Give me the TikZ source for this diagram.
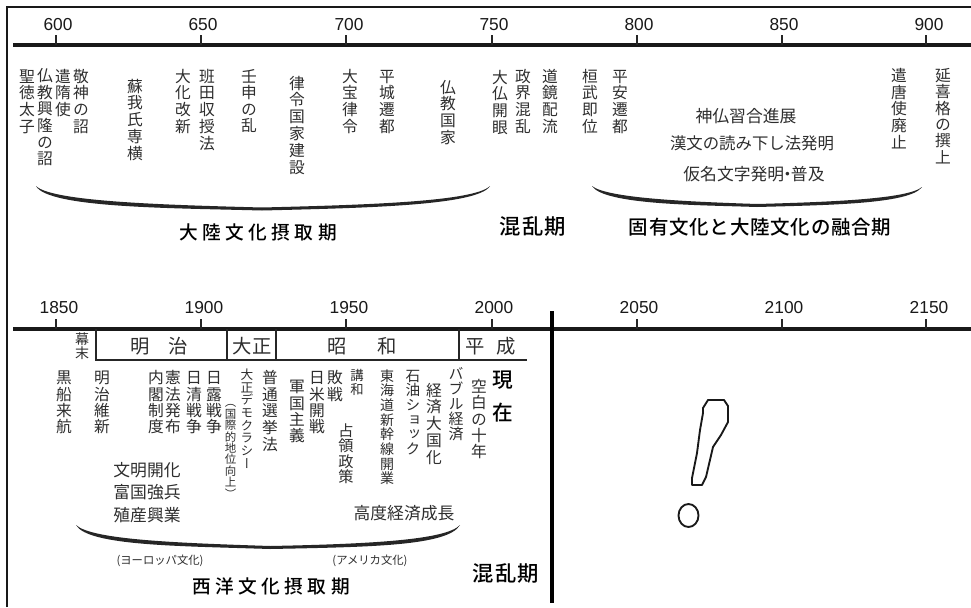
\documentclass[tikz,border=0pt]{standalone}
\usepackage{fontspec}
\setmainfont{Liberation Sans}
\newfontfamily\cjk{Noto Sans CJK JP}
\newfontfamily\cjkm{Noto Sans CJK JP Medium}
\newfontfamily\cjkv{Noto Sans CJK JP}[RawFeature=+vert]
\makeatletter
% size (pt), pitch (pt), characters: one glyph per line, top to bottom
\newcommand\vtxt[3]{\vbox{\offinterlineskip\fontsize{#1pt}{#1pt}\cjkv
  \@tfor\vtc:=#3\do{\hbox to #1pt{\vrule height .84\dimexpr#2pt\relax depth .16\dimexpr#2pt\relax width 0pt\smash{\vtc}\hss}}}}
\makeatother
\newcommand\sz[1]{\fontsize{#1pt}{#1pt}\selectfont}
\tikzset{
  x=0.75pt,y=-0.75pt,
  every node/.style={inner sep=0pt,outer sep=0pt,text=black!82},
  vt/.style={anchor=north},
  yearlab/.style={font=\fontsize{13pt}{13pt}\selectfont,text=black!90},
  axisline/.style={line width=2.4pt,black!90},
  tick/.style={line width=1.1pt,black!85},
  framing/.style={line width=1.6pt,black!90},
  era/.style={line width=1.3pt,black!85},
  erat/.style={font=\cjk\sz{14.5}},
  hz/.style={font=\cjk\sz{12.6}},
  head/.style={font=\cjkm\sz{14},text=black},
  small/.style={font=\cjk\sz{8.5}},
  arcshape/.style={fill=black!85,draw=none},
}
\newcommand\vn[6][11.8]{\node[vt] (#2) at (#3,#4) {\vtxt{#1}{#5}{#6}};}
\begin{document}
\begin{tikzpicture}
\useasboundingbox (0,0) rectangle (971,607);
\fill[white] (0,0) rectangle (971,607);
% frame
\coordinate (fa) at (7,607); \coordinate (fb) at (7,7); \coordinate (fc) at (971,7);
\draw[framing] (fa) -- (fb) -- (fc);
% axes
\coordinate (a1l) at (13,45); \coordinate (a1r) at (971,45);
\coordinate (a2l) at (13,329); \coordinate (a2r) at (971,329);
\draw[axisline] (a1l) -- (a1r);
\draw[axisline] (a2l) -- (a2r);
\coordinate (dv1) at (552,311); \coordinate (dv2) at (552,603);
\draw[line width=3pt,black] (dv1) -- (dv2);
% ticks + year labels
\foreach \tx/\lx/\yr in {56/58/600,201/203/650,346/349/700,492/494/750,637/639/800,782/784/850,926/929/900}{
  \draw[tick] (\tx,35) -- (\tx,45);
  \node[yearlab] (y\yr) at (\lx,24.5) {\yr};}
\foreach \tx/\lx/\yr in {56/59/1850,201/204/1900,346/349/1950,492/494/2000,637/639/2050,782/784/2100,926/929/2150}{
  \draw[tick] (\tx,319) -- (\tx,329);
  \node[yearlab] (y\yr) at (\lx,307.5) {\yr};}
% era boxes
\coordinate (e0) at (96,329); \coordinate (e0b) at (96,360);
\coordinate (e1) at (227,329); \coordinate (e1b) at (227,360);
\coordinate (e2) at (276,329); \coordinate (e2b) at (276,360);
\coordinate (e3) at (459,329); \coordinate (e3b) at (459,360);
\coordinate (e4) at (527,360);
\draw[era] (e0) -- (e0b) -- (e4);
\draw[era] (e1) -- (e1b);
\draw[era] (e2) -- (e2b);
\draw[era] (e3) -- (e3b);
\node[erat] (meiji) at (159,346) {明\hspace{1em}治};
\node[erat] (taisho) at (252,346) {大正};
\node[erat] (showa) at (362,346) {昭\hspace{1.6em}和};
\node[erat] (heisei) at (491,346) {平\hspace{.6em}成};
\vn[10.5]{bakumatsu}{82}{332}{11}{幕末}
% upper vertical labels
\vn{t01}{27}{68}{12.6}{聖徳太子}
\vn{t02}{45}{68}{12.4}{仏教興隆の詔}
\vn{t03}{63}{68}{12.6}{遣隋使}
\vn{t04}{81}{68}{12.6}{敬神の詔}
\vn{t05}{135}{78}{12.6}{蘇我氏専横}
\vn{t06}{183}{68}{12.6}{大化改新}
\vn{t07}{207}{68}{12.6}{班田収授法}
\vn{t08}{249}{69}{12.2}{壬申の乱}
\vn{t09}{297}{75}{12.6}{律令国家建設}
\vn{t10}{350}{68}{12.6}{大宝律令}
\vn{t11}{387}{68}{12.6}{平城遷都}
\vn{t12}{448}{79}{12.6}{仏教国家}
\vn{t13}{500}{69}{12.6}{大仏開眼}
\vn{t14}{523}{68}{12.6}{政界混乱}
\vn{t15}{550}{68}{12.6}{道鏡配流}
\vn{t16}{590}{68}{12.6}{桓武即位}
\vn{t17}{620}{68}{12.6}{平安遷都}
\vn{t18}{899}{68}{12.4}{遣唐使廃止}
\vn{t19}{943}{68}{12.2}{延喜格の撰上}
\node[hz] (h1) at (746,116) {神仏習合進展};
\node[hz,font=\cjk\sz{12.3}] (h2) at (752,143) {漢文の読み下し法発明};
\node[hz] (h3) at (754,174) {仮名文字発明\kern-.3em・\kern-.3em普及};
% braces
\fill[arcshape] (36,186) .. controls (48,208) and (170,208) .. (262,210.5) .. controls (360,208) and (478,206) .. (490,186) .. controls (474,202) and (360,205) .. (262,207.5) .. controls (170,205) and (52,202) .. (36,186) -- cycle;
\fill[arcshape] (592,186) .. controls (604,205) and (700,205) .. (757,207) .. controls (830,205) and (910,204) .. (922,187) .. controls (908,199) and (830,202) .. (757,204) .. controls (700,202) and (608,199) .. (592,186) -- cycle;
\fill[arcshape] (76,525) .. controls (88,546) and (180,546) .. (270,549) .. controls (370,547) and (448,546) .. (460,525) .. controls (446,540) and (370,544) .. (270,546) .. controls (180,543) and (92,540) .. (76,525) -- cycle;
% heads
\node[head] (p1) at (258,232) {\addfontfeatures{LetterSpace=24}大陸文化摂取期};
\node[head,font=\cjkm\sz{16}] (p2) at (533,226) {\addfontfeatures{LetterSpace=6}混乱期};
\node[head,font=\cjkm\sz{14.6}] (p3) at (760,227) {\addfontfeatures{LetterSpace=4}固有文化と大陸文化の融合期};
\node[head] (p4) at (271,586) {\addfontfeatures{LetterSpace=24}西洋文化摂取期};
\node[head,font=\cjkm\sz{16}] (p5) at (506,573) {\addfontfeatures{LetterSpace=6}混乱期};
% lower vertical labels
\vn{b01}{64}{370}{12.3}{黒船来航}
\vn{b02}{102}{370}{12.3}{明治維新}
\vn{b03}{156}{370}{12.3}{内閣制度}
\vn{b04}{173}{370}{12.3}{憲法発布}
\vn{b05}{194}{370}{12.3}{日清戦争}
\vn{b06}{214}{370}{12.3}{日露戦争}
\vn[8.6]{b07}{230.5}{397}{8.6}{（国際的地位向上）}
\vn[9.5]{b08}{247}{369}{9.5}{大正デモクラシー}
\vn{b09}{270}{370}{12.4}{普通選挙法}
\vn{b10}{297}{379}{12.3}{軍国主義}
\vn{b11}{317}{370}{12.3}{日米開戦}
\vn{b12}{335}{370}{12.3}{敗戦}
\vn[10]{b13}{357}{369}{10.5}{講和}
\vn[11.4]{b14}{346}{424}{11.4}{占領政策}
\vn[10.5]{b15}{387}{369}{11}{東海道新幹線開業}
\vn[11]{b16}{413}{369}{11}{石油ショック}
\vn{b17}{434}{382}{12.6}{経済大国化}
\vn[11.2]{b18}{456}{367}{11.2}{バブル経済}
\vn{b19}{479}{379}{12.2}{空白の十年}
\node[head,font=\cjkm\sz{15.5}] (g1) at (503,380) {現};
\node[head,font=\cjkm\sz{15.5}] (g2) at (503,413) {在};
\node[hz] (m1) at (147,470) {文明開化};
\node[hz] (m2) at (147,492) {富国強兵};
\node[hz] (m3) at (147,515) {殖産興業};
\node[hz] (m4) at (404,513) {高度経済成長};
\node[small] (c1) at (160,561) {(ヨーロッパ文化)};
\node[small] (c2) at (370,561) {(アメリカ文化)};
% exclamation mark
\draw[line width=1.4pt,black!90,fill=white,line join=round]
 (708,400) -- (724,400) -- (728,406) -- (728,422) -- (721,435) -- (713,447) -- (706,477) -- (702,485) -- (692,485) -- (692,478) -- (697,453) -- (700,430) -- (703,413) -- (703,408) -- cycle;
\draw[line width=1.4pt,black!90] (688.5,515.5) ellipse (10 and 11.5);
\end{tikzpicture}
\end{document}
